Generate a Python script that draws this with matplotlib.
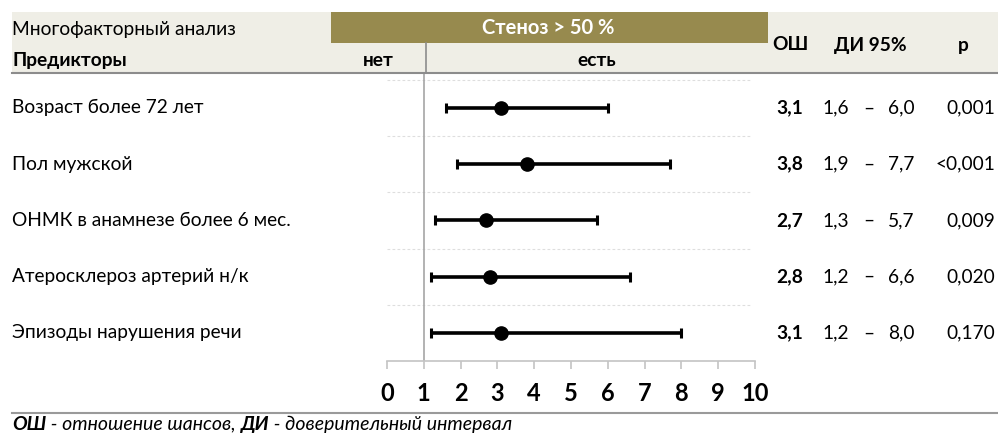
import matplotlib
matplotlib.use("Agg")
import matplotlib.pyplot as plt
from matplotlib.patches import Rectangle
from matplotlib.lines import Line2D
from matplotlib.transforms import blended_transform_factory

plt.rcParams['font.family'] = ['Lato', 'Open Sans', 'DejaVu Sans']

# Data
predictors = [
    "Возраст более 72 лет",
    "Пол мужской",
    "ОНМК в анамнезе более 6 мес.",
    "Атеросклероз артерий н/к",
    "Эпизоды нарушения речи",
]
odds_ratio = [3.1, 3.8, 2.7, 2.8, 3.1]
ci_low = [1.6, 1.9, 1.3, 1.2, 1.2]
ci_high = [6.0, 7.7, 5.7, 6.6, 8.0]
p_values = ["0,001", "<0,001", "0,009", "0,020", "0,170"]
x_ticks = list(range(0, 11))

W, H = 998, 436
fig = plt.figure(figsize=(W / 100, H / 100), dpi=100)


def fx(px):
    return px / W


def fy(py):
    return 1 - py / H


def fmt(v):
    return f"{v:.1f}".replace(".", ",")


# Header band
fig.patches.append(Rectangle((fx(12), fy(73)), fx(998) - fx(12), fy(12) - fy(73),
                             transform=fig.transFigure, facecolor="#efeee6",
                             edgecolor="none", zorder=0))
fig.patches.append(Rectangle((fx(331), fy(43)), fx(768) - fx(331), fy(12) - fy(43),
                             transform=fig.transFigure, facecolor="#978a4e",
                             edgecolor="none", zorder=1))
fig.lines.append(Line2D([fx(12), fx(998)], [fy(73), fy(73)], transform=fig.transFigure,
                        color="#8c8c8c", lw=1.5))
fig.lines.append(Line2D([fx(12), fx(998)], [fy(413), fy(413)], transform=fig.transFigure,
                        color="#9a9a9a", lw=1.5))

# Forest plot axes: x 0..10 spans px 387..755, rows between px 73..361
ax = fig.add_axes([fx(387), fy(361), fx(755) - fx(387), fy(73) - fy(361)])
ax.set_xlim(0, 10)
ax.set_ylim(5.5, 0.38)
ax.patch.set_alpha(0)
rows = list(range(1, len(predictors) + 1))

for s in ("top", "right", "left"):
    ax.spines[s].set_visible(False)
ax.spines["bottom"].set_color("#c4c4c4")
ax.spines["bottom"].set_linewidth(1.2)
ax.set_yticks([])
ax.set_xticks(x_ticks)
ax.set_xticklabels([str(t) for t in x_ticks], fontsize=17, fontweight="bold")
ax.tick_params(axis="x", direction="out", length=6, width=1.2, color="#c4c4c4", pad=9)

# Row separators
for yv in [r - 0.5 for r in rows]:
    ax.axhline(yv, xmin=0, xmax=0.99, color="#dedede", lw=0.8, ls=(0, (2.5, 2)), zorder=1)

# Reference line at OR = 1
ax.axvline(1, color="#a6a6a6", lw=1.2, zorder=1)
fig.lines.append(Line2D([fx(425.5), fx(425.5)], [fy(43), fy(73)], transform=fig.transFigure,
                        color="#8c8c8c", lw=1.2))

# Intervals and point estimates
xerr = [[o - l for o, l in zip(odds_ratio, ci_low)],
        [h - o for o, h in zip(odds_ratio, ci_high)]]
ax.errorbar(odds_ratio, rows, xerr=xerr, fmt="o", color="black", ecolor="black",
            elinewidth=2.6, capsize=3.5, capthick=2.2, markersize=9.5, zorder=3)

# Header texts
fs = 13.8
fig.text(fx(12), fy(29), "Многофакторный анализ", fontsize=fs, va="center", ha="left")
fig.text(fx(12), fy(60), "Предикторы", fontsize=fs, fontweight="bold", va="center", ha="left")
fig.text(fx(378), fy(60), "нет", fontsize=fs, fontweight="bold", va="center", ha="center")
fig.text(fx(597), fy(60), "есть", fontsize=fs, fontweight="bold", va="center", ha="center")
fig.text(fx(548), fy(28), "Стеноз > 50 %", fontsize=14.5, fontweight="bold",
         color="white", va="center", ha="center")
fig.text(fx(790), fy(45), "ОШ", fontsize=fs, fontweight="bold", va="center", ha="center")
fig.text(fx(870), fy(45), "ДИ 95%", fontsize=fs, fontweight="bold", va="center", ha="center")
fig.text(fx(963), fy(45), "p", fontsize=fs, fontweight="bold", va="center", ha="center")

# Row labels and numeric columns
tr = blended_transform_factory(fig.transFigure, ax.transData)
for r, name, o, lo, hi, p in zip(rows, predictors, odds_ratio, ci_low, ci_high, p_values):
    ax.text(fx(12), r, name, transform=tr, fontsize=fs, va="center", ha="left", clip_on=False)
    ax.text(fx(790), r, fmt(o), transform=tr, fontsize=fs, fontweight="bold",
            va="center", ha="center", clip_on=False)
    ax.text(fx(836), r, fmt(lo), transform=tr, fontsize=fs, va="center", ha="center", clip_on=False)
    ax.text(fx(869), r, "–", transform=tr, fontsize=fs, va="center", ha="center", clip_on=False)
    ax.text(fx(901), r, fmt(hi), transform=tr, fontsize=fs, va="center", ha="center", clip_on=False)
    ax.text(fx(995), r, p, transform=tr, fontsize=fs, va="center", ha="right", clip_on=False)

# Footer legend, pieces laid out one after another
parts = [("ОШ", "bold"), (" - отношение шансов, ", "normal"),
         ("ДИ", "bold"), (" - доверительный интервал", "normal")]
fig.canvas.draw()
renderer = fig.canvas.get_renderer()
x0 = fx(12)
for txt, wt in parts:
    t = fig.text(x0, fy(424), txt, fontsize=14, fontweight=wt, style="italic",
                 va="center", ha="left")
    bb = t.get_window_extent(renderer=renderer)
    x0 += bb.width / W

fig.savefig("out.png", dpi=100)
